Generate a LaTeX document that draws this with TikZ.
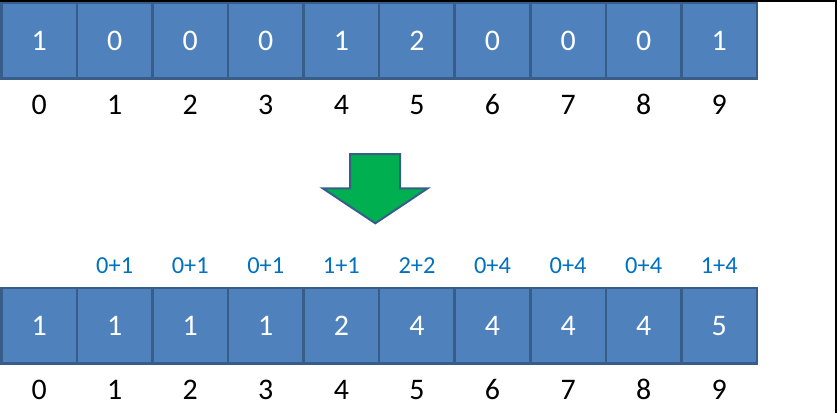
\documentclass[tikz,border=0pt]{standalone}
\usepackage{fontspec}
\setmainfont{Carlito}
\usepackage[dvipsnames]{xcolor}
\usetikzlibrary{positioning}
\definecolor{cellblue}{HTML}{4F81BD}
\definecolor{celledge}{HTML}{385D8A}
\definecolor{sumblue}{HTML}{0070C0}
\definecolor{arrowgreen}{HTML}{00B050}

\begin{document}
\begin{tikzpicture}[x=1bp,y=-1bp,node distance=75.57bp,cell node/.style={rectangle,draw=celledge,fill=cellblue,line width=2.5bp,minimum width=75.57bp,minimum height=75.7bp,inner sep=0pt,outer sep=0pt,text=white,font=\fontsize{30}{34}\selectfont},index node/.style={node distance=64bp,font=\fontsize{30}{34}\selectfont},sum node/.style={node distance=60.4bp,text=sumblue,font=\fontsize{24.5}{28}\selectfont}]
                    \useasboundingbox (0,0) rectangle (837,413);
                    \draw[line width=1.5bp] (0,0.8) -- (835.8,0.8) -- (835.8,413);

                    % input array
                    \node[cell node] (a0) at (39.1,40.8) {1};
                    \node[cell node] (a1) [right of = a0] {0};
                    \node[cell node] (a2) [right of = a1] {0};
                    \node[cell node] (a3) [right of = a2] {0};
                    \node[cell node] (a4) [right of = a3] {1};
                    \node[cell node] (a5) [right of = a4] {2};
                    \node[cell node] (a6) [right of = a5] {0};
                    \node[cell node] (a7) [right of = a6] {0};
                    \node[cell node] (a8) [right of = a7] {0};
                    \node[cell node] (a9) [right of = a8] {1};

                    \node[index node] (i0) [below of = a0] {0};
                    \node[index node] (i1) [below of = a1] {1};
                    \node[index node] (i2) [below of = a2] {2};
                    \node[index node] (i3) [below of = a3] {3};
                    \node[index node] (i4) [below of = a4] {4};
                    \node[index node] (i5) [below of = a5] {5};
                    \node[index node] (i6) [below of = a6] {6};
                    \node[index node] (i7) [below of = a7] {7};
                    \node[index node] (i8) [below of = a8] {8};
                    \node[index node] (i9) [below of = a9] {9};

                    % arrow
                    \draw[draw=celledge,fill=arrowgreen,line width=2bp] (350,154) -- (400,154) -- (400,188.3) -- (427.7,188.3) -- (375.3,223.3) -- (322.7,188.3) -- (350,188.3) -- cycle;

                    % prefix sums
                    \node[cell node] (b0) at (39.1,325.7) {1};
                    \node[cell node] (b1) [right of = b0] {1};
                    \node[cell node] (b2) [right of = b1] {1};
                    \node[cell node] (b3) [right of = b2] {1};
                    \node[cell node] (b4) [right of = b3] {2};
                    \node[cell node] (b5) [right of = b4] {4};
                    \node[cell node] (b6) [right of = b5] {4};
                    \node[cell node] (b7) [right of = b6] {4};
                    \node[cell node] (b8) [right of = b7] {4};
                    \node[cell node] (b9) [right of = b8] {5};

                    \node[sum node] (s1) [above of = b1] {0+1};
                    \node[sum node] (s2) [above of = b2] {0+1};
                    \node[sum node] (s3) [above of = b3] {0+1};
                    \node[sum node] (s4) [above of = b4] {1+1};
                    \node[sum node] (s5) [above of = b5] {2+2};
                    \node[sum node] (s6) [above of = b6] {0+4};
                    \node[sum node] (s7) [above of = b7] {0+4};
                    \node[sum node] (s8) [above of = b8] {0+4};
                    \node[sum node] (s9) [above of = b9] {1+4};

                    \node[index node] (j0) [below of = b0] {0};
                    \node[index node] (j1) [below of = b1] {1};
                    \node[index node] (j2) [below of = b2] {2};
                    \node[index node] (j3) [below of = b3] {3};
                    \node[index node] (j4) [below of = b4] {4};
                    \node[index node] (j5) [below of = b5] {5};
                    \node[index node] (j6) [below of = b6] {6};
                    \node[index node] (j7) [below of = b7] {7};
                    \node[index node] (j8) [below of = b8] {8};
                    \node[index node] (j9) [below of = b9] {9};
                \end{tikzpicture}
\end{document}
